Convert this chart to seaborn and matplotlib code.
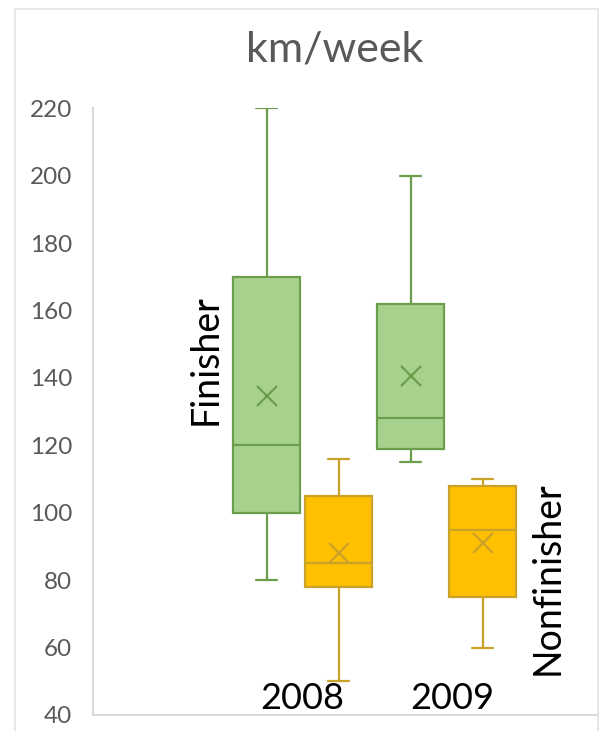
import numpy as np
import pandas as pd
import seaborn as sns
import matplotlib
matplotlib.use("Agg")
import matplotlib.pyplot as plt
from matplotlib.patches import Rectangle

# values: whisker low, Q1, median, Q3, whisker high
YEARS = ["2008", "2009"]
STATUS = ["Finisher", "Nonfinisher"]
FIN_2008 = [80, 100, 120, 170, 220]
FIN_2009 = [115, 119, 128, 162, 200]
NON_2008 = [50, 78, 85, 105, 116]
NON_2009 = [60, 75, 95, 108, 110]
MEANS_FIN = [134.5, 140.5]
MEANS_NON = [88, 91]

FILL = {"Finisher": "#A9D18E", "Nonfinisher": "#FFC000"}
EDGE = {"Finisher": "#6A9E4C", "Nonfinisher": "#C9A227"}
GRAY = "#595959"

rows = []
for yr, vals in zip(YEARS, [FIN_2008, FIN_2009]):
    rows += [{"year": yr, "status": "Finisher", "km": v} for v in vals]
for yr, vals in zip(YEARS, [NON_2008, NON_2009]):
    rows += [{"year": yr, "status": "Nonfinisher", "km": v} for v in vals]
df = pd.DataFrame(rows)

means = pd.DataFrame({
    "year": YEARS * 2,
    "status": ["Finisher"] * 2 + ["Nonfinisher"] * 2,
    "km": MEANS_FIN + MEANS_NON,
})

sns.set_theme(style="white")
plt.rcParams["font.family"] = ["Lato", "DejaVu Sans"]

fig = plt.figure(figsize=(6, 7.31), dpi=100)
ax = fig.add_axes([0.155, 0.0219, 0.842, 0.830])

sns.boxplot(data=df, x="year", y="km", hue="status", order=YEARS,
            hue_order=STATUS, palette=FILL, linecolor="black",
            linewidth=1.6, width=1.0, gap=0.07, whis=(0, 100),
            capwidths=0.15, saturation=1, legend=False, ax=ax)

# recolour box outlines per status: finisher boxes sit left of the year centre
def status_of(xs):
    x = np.mean(xs)
    return "Finisher" if x - round(x) < 0 else "Nonfinisher"

for p in ax.patches:
    p.set_edgecolor(EDGE[status_of(p.get_path().vertices[:, 0])])
for ln in ax.lines:
    xs = np.asarray(ln.get_xdata(), dtype=float)
    if len(xs):
        ln.set_color(EDGE[status_of(xs)])

sns.pointplot(data=means, x="year", y="km", hue="status", order=YEARS,
              hue_order=STATUS, palette=EDGE, dodge=0.5, linestyle="none",
              markers="x", markersize=15, markeredgewidth=1.6,
              errorbar=None, legend=False, ax=ax)

ax.set_ylim(40, 220)
ax.set_xlim(-1.455, 2.052)
ax.set_yticks(np.arange(40, 221, 20))
ax.tick_params(axis="y", labelsize=17.5, labelcolor=GRAY, length=0, pad=15)
ax.set_xticks([])
ax.set_xlabel("")
ax.set_ylabel("")
for side in ["top", "right"]:
    ax.spines[side].set_visible(False)
for side in ["left", "bottom"]:
    ax.spines[side].set_color("#D9D9D9")
    ax.spines[side].set_linewidth(1.5)

ax.text(0, 45, "2008", ha="center", va="center", fontsize=26, color="black")
ax.text(1.04, 45, "2009", ha="center", va="center", fontsize=26, color="black")

fig.text(206 / 600, 1 - 360 / 731, "Finisher", rotation=90, ha="center",
         va="center", fontsize=27, color="black")
fig.text(548 / 600, 1 - 578 / 731, "Nonfinisher", rotation=90, ha="center",
         va="center", fontsize=27, color="black")
fig.text(335 / 600, 1 - 50 / 731, "km/week", ha="center", va="center",
         fontsize=31, color=GRAY)

fig.patches.append(Rectangle((15 / 600, -0.02), 583 / 600, 1 - 9 / 731 + 0.02,
                             transform=fig.transFigure, fill=False,
                             edgecolor="#E3E3E3", linewidth=1.2))

fig.savefig("out.png", dpi=100)
